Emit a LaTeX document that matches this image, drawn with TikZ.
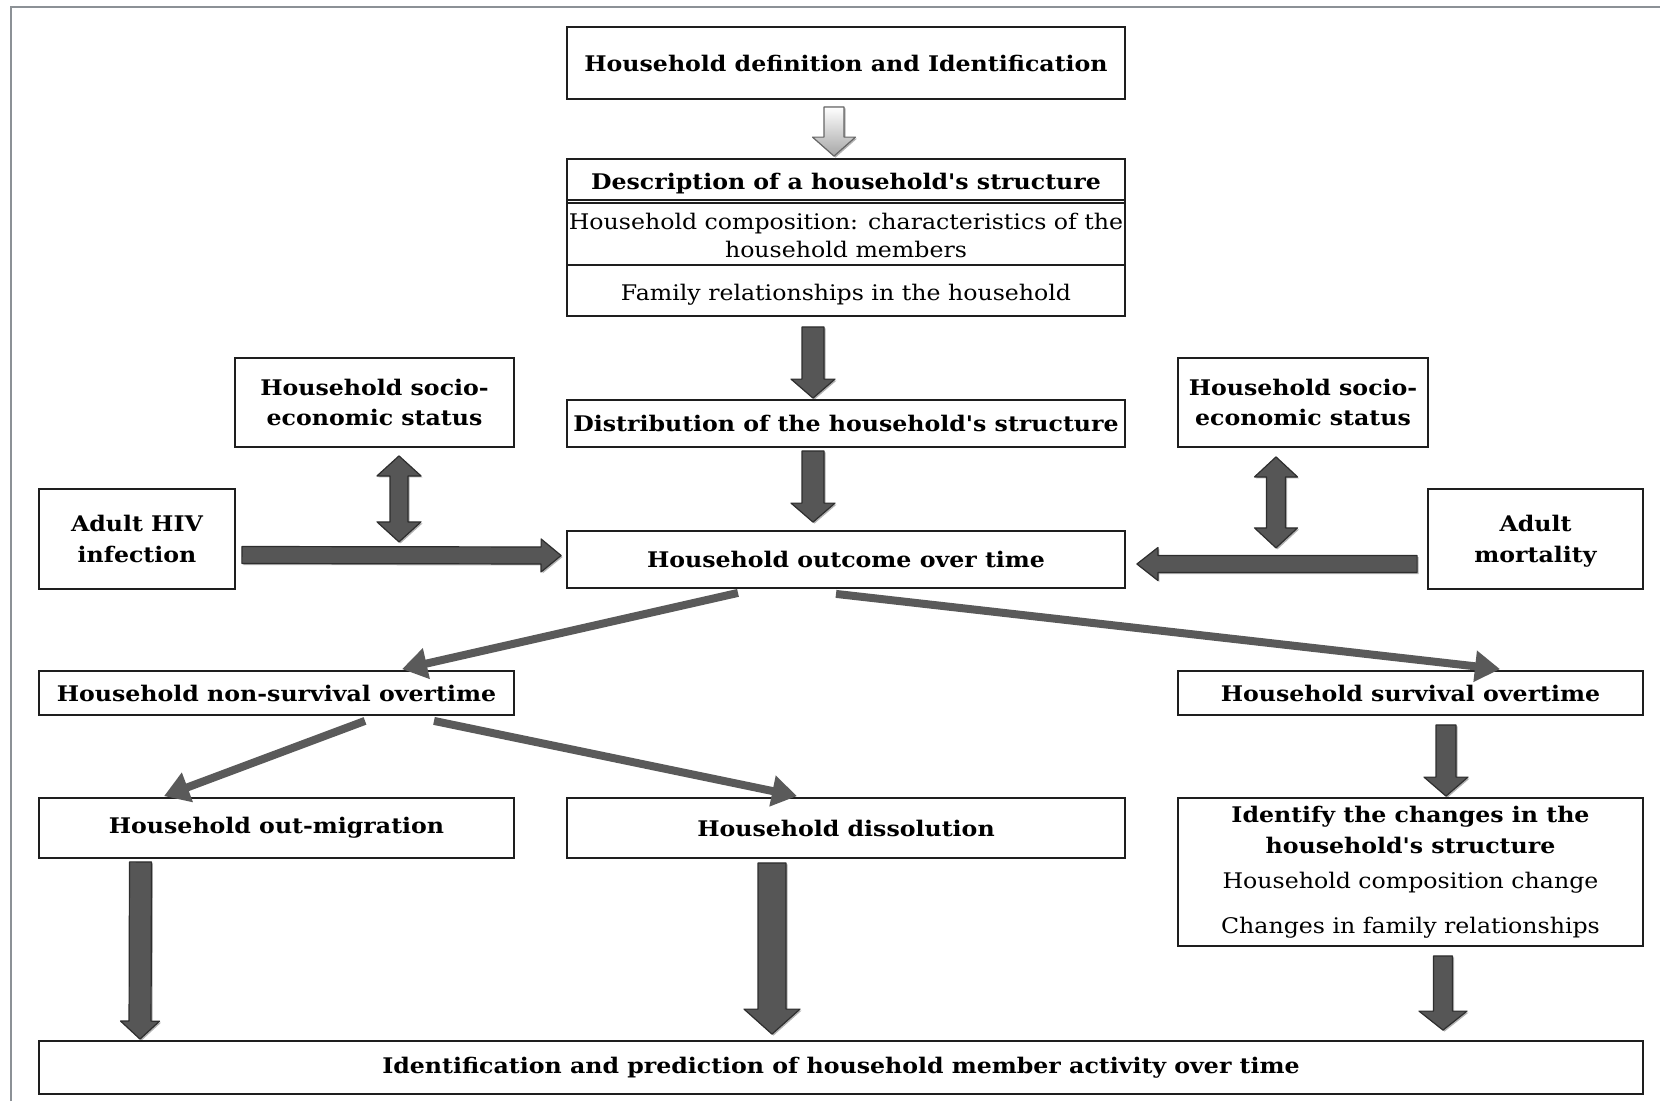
\documentclass[tikz,border=0pt]{standalone}
\usepackage{fontspec}
\setmainfont{DejaVu Serif}[FakeStretch=1.10,Ligatures=TeXOff]
\usetikzlibrary{calc,arrows.meta,shadows}

\definecolor{frameline}{HTML}{8C9196}
\definecolor{boxline}{HTML}{1E1E1E}
\definecolor{arrowfill}{HTML}{565656}
\definecolor{arrowedge}{HTML}{2E2E2E}
\definecolor{slimarrow}{HTML}{5A5A5A}

\newcommand\boxbold{\fontsize{21.5}{30.5}\selectfont\bfseries}
\newcommand\boxreg{\fontsize{21.5}{28}\selectfont}

% block arrow: [style]{start}{tip}{half shaft}{half head}{head length}
\newcommand\blockarrow[6][]{%
  \path ($(#3)!#6!(#2)$) coordinate (bhead);
  \filldraw[barrow,#1]
    ($(#2)!#4!90:(#3)$) -- ($(bhead)!#4!90:(#3)$) -- ($(bhead)!#5!90:(#3)$) -- (#3)
    -- ($(bhead)!#5!-90:(#3)$) -- ($(bhead)!#4!-90:(#3)$) -- ($(#2)!#4!-90:(#3)$) -- cycle;
}
% two-headed block arrow: [style]{tip A}{tip B}{half shaft}{half head}{head length}
\newcommand\twowayarrow[6][]{%
  \path ($(#2)!#6!(#3)$) coordinate (bheadA) ($(#3)!#6!(#2)$) coordinate (bheadB);
  \filldraw[barrow,#1] (#2) -- ($(bheadA)!#5!90:(#3)$) -- ($(bheadA)!#4!90:(#3)$)
    -- ($(bheadB)!#4!90:(#3)$) -- ($(bheadB)!#5!90:(#3)$) -- (#3)
    -- ($(bheadB)!#5!-90:(#3)$) -- ($(bheadB)!#4!-90:(#3)$)
    -- ($(bheadA)!#4!-90:(#3)$) -- ($(bheadA)!#5!-90:(#3)$) -- cycle;
}

\begin{document}
\begin{tikzpicture}[x=1pt,y=-1pt,
  box/.style={draw=boxline,line width=1.8pt,fill=white,inner sep=0pt,align=center,font=\boxbold},
  regtext/.style={inner sep=0pt,align=center,font=\boxreg},
  boldtext/.style={inner sep=0pt,align=center,font=\boxbold},
  barrow/.style={fill=arrowfill,draw=arrowedge,line width=1.2pt,line join=round,
    drop shadow={shadow xshift=1.5pt,shadow yshift=-1.5pt,opacity=.3,fill=black}},
  lightarrow/.style={top color=white,bottom color=black!35,draw=black!60,line width=1.2pt},
  slim/.style={draw=slimarrow,line width=8pt,-{Triangle[width=30pt,length=25pt]}},
  rowline/.style={draw=boxline,line width=1.8pt}]
\useasboundingbox (0,0) rectangle (1660,1101);

% page frame
\draw[frameline,line width=2pt] (11,1101) -- (11,7) -- (1660,7);

% boxes
\node[box,minimum width=558pt,minimum height=72pt] (def) at (846,63) {Household definition and Identification};
\node[box,minimum width=558pt,minimum height=157pt] (desc) at (846,237.5) {};
\draw[rowline] ($(desc.north west)+(0,42)$) -- ($(desc.north east)+(0,42)$);
\draw[rowline] ($(desc.north west)+(0,45)$) -- ($(desc.north east)+(0,45)$);
\draw[rowline] ($(desc.north west)+(0,107)$) -- ($(desc.north east)+(0,107)$);
\node[boldtext] (deschead) at ($(desc.north)+(0,25)$) {Description of a household's structure};
\node[regtext] (desccomp) at ($(desc.north)+(0,77)$) {Household composition: characteristics of the\\household members};
\node[regtext] (descfam) at ($(desc.north)+(0,137)$) {Family relationships in the household};

\node[box,minimum width=558pt,minimum height=47pt] (dist) at (846,423.5) {Distribution of the household's structure};
\node[box,minimum width=558pt,minimum height=57pt] (outcome) at (846,559.5) {Household outcome over time};

\node[box,minimum width=279pt,minimum height=89pt] (sesL) at (374.5,402.5) {Household socio-\\economic status};
\node[box,minimum width=196pt,minimum height=100pt] (hiv) at (137,539) {Adult HIV\\infection};
\node[box,minimum width=250pt,minimum height=89pt] (sesR) at (1303,402.5) {Household socio-\\economic status};
\node[box,minimum width=215pt,minimum height=100pt,text depth=-4pt] (mort) at (1535.5,539) {Adult\\mortality};

\node[box,minimum width=475pt,minimum height=44pt] (nonsurv) at (276.5,693) {Household non-survival overtime};
\node[box,minimum width=465pt,minimum height=44pt] (surv) at (1410.5,693) {Household survival overtime};

\node[box,minimum width=475pt,minimum height=60pt] (outmig) at (276.5,828) {Household out-migration};
\node[box,minimum width=558pt,minimum height=60pt] (dissol) at (846,828) {Household dissolution};
\node[box,minimum width=465pt,minimum height=148pt] (ident) at (1410.5,872) {};
\node[boldtext] (identhead) at ($(ident.north)+(0,33)$) {Identify the changes in the\\household's structure};
\node[regtext] (identcomp) at ($(ident.north)+(0,86)$) {Household composition change};
\node[regtext] (identfam) at ($(ident.north)+(0,131)$) {Changes in family relationships};

\node[box,minimum width=1604pt,minimum height=53pt] (final) at (841,1067.5) {Identification and prediction of household member activity over time};

% connector end points
\coordinate (a1s) at ($(def.south)+(-12,7)$);
\coordinate (a1e) at ($(desc.north)+(-12,-2)$);
\coordinate (a2s) at ($(desc.south)+(-33,10)$);
\coordinate (a2e) at ($(dist.north)+(-33,-1)$);
\coordinate (a3s) at ($(dist.south)+(-33,3)$);
\coordinate (a3e) at ($(outcome.north)+(-33,-8)$);
\coordinate (a4s) at ($(hiv.east)+(6,16)$);
\coordinate (a4e) at ($(outcome.west)+(-5,-4)$);
\coordinate (a5s) at ($(mort.west)+(-10,25)$);
\coordinate (a5e) at ($(outcome.east)+(11,4.5)$);
\coordinate (a6s) at ($(sesL.south)+(24.5,8)$);
\coordinate (a6e) at ($(sesL.south)+(24.5,94)$);
\coordinate (a7s) at ($(sesR.south)+(-27,9)$);
\coordinate (a7e) at ($(sesR.south)+(-27,100)$);
\coordinate (a8s) at ($(outcome.south)+(-108,4)$);
\coordinate (a8e) at ($(nonsurv.north)+(125.5,-1)$);
\coordinate (a9s) at ($(outcome.south)+(-10,5)$);
\coordinate (a9e) at ($(surv.north)+(89.5,-1)$);
\coordinate (a10s) at ($(nonsurv.south)+(88.5,5)$);
\coordinate (a10e) at ($(outmig.north)+(-112.5,-1)$);
\coordinate (a11s) at ($(nonsurv.south)+(157.5,5)$);
\coordinate (a11e) at ($(dissol.north)+(-49,-1)$);
\coordinate (a12s) at ($(surv.south)+(35.5,9)$);
\coordinate (a12e) at ($(ident.north)+(35.5,-1)$);
\coordinate (a13s) at ($(outmig.south)+(-136,3)$);
\coordinate (a13e) at ($(final.north)+(-701,-1)$);
\coordinate (a14s) at ($(dissol.south)+(-74,4)$);
\coordinate (a14e) at ($(final.north)+(-69,-6)$);
\coordinate (a15s) at ($(ident.south)+(32.5,9)$);
\coordinate (a15e) at ($(final.north)+(602,-10)$);

% block arrows
\blockarrow[lightarrow]{a1s}{a1e}{10pt}{21.5pt}{19pt}
\blockarrow{a2s}{a2e}{11pt}{22pt}{19pt}
\blockarrow{a3s}{a3e}{11pt}{22pt}{19pt}
\blockarrow{a4s}{a4e}{8.5pt}{16.5pt}{20pt}
\blockarrow{a5s}{a5e}{8.5pt}{16.5pt}{21pt}
\twowayarrow{a6s}{a6e}{9pt}{22pt}{20pt}
\twowayarrow{a7s}{a7e}{9.5pt}{21.5pt}{20pt}
\blockarrow{a12s}{a12e}{10pt}{22pt}{19pt}
\blockarrow{a13s}{a13e}{11pt}{19.5pt}{18pt}
\blockarrow{a14s}{a14e}{14pt}{28pt}{25pt}
\blockarrow{a15s}{a15e}{9.5pt}{24pt}{19pt}

% slim arrows
\draw[slim] (a8s) -- (a8e);
\draw[slim] (a9s) -- (a9e);
\draw[slim] (a10s) -- (a10e);
\draw[slim] (a11s) -- (a11e);
\end{tikzpicture}
\end{document}
